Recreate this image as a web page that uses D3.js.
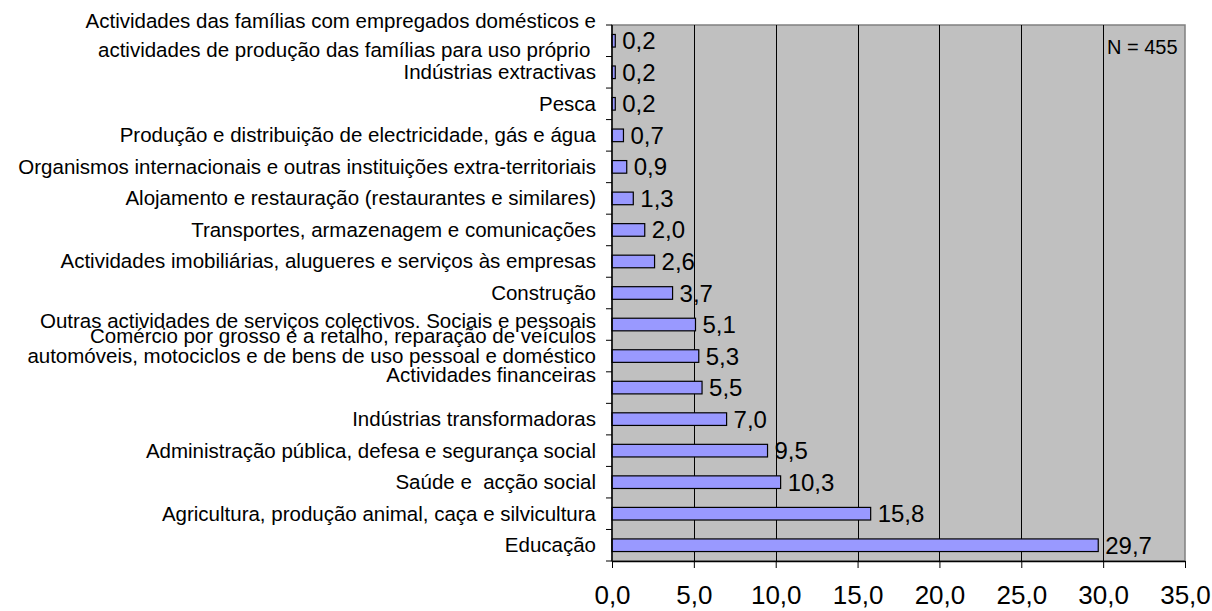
<!DOCTYPE html>
<html>
<head>
<meta charset="utf-8">
<script src="https://cdn.jsdelivr.net/npm/d3@7"></script>
<style>
    body { margin: 0; background: #fff; }
    svg { display: block; font-family: "Liberation Sans", Arial, sans-serif; }
    .cat-label { white-space: pre; }
</style>
</head>
<body>
<main></main>
<script>
// categories top to bottom, "\n" splits a label in two lines
const categories = [
    "Actividades das famílias com empregados domésticos e\nactividades de produção das famílias para uso próprio ",
    "Indústrias extractivas",
    "Pesca",
    "Produção e distribuição de electricidade, gás e água",
    "Organismos internacionais e outras instituições extra-territoriais",
    "Alojamento e restauração (restaurantes e similares)",
    "Transportes, armazenagem e comunicações",
    "Actividades imobiliárias, alugueres e serviços às empresas",
    "Construção",
    "Outras actividades de serviços colectivos. Sociais e pessoais",
    "Comércio por grosso e a retalho, reparação de veículos\nautomóveis, motociclos e de bens de uso pessoal e doméstico",
    "Actividades financeiras",
    "Indústrias transformadoras",
    "Administração pública, defesa e segurança social",
    "Saúde e  acção social",
    "Agricultura, produção animal, caça e silvicultura",
    "Educação"
];
const percents = [0.2, 0.2, 0.2, 0.7, 0.9, 1.3, 2.0, 2.6, 3.7, 5.1, 5.3, 5.5, 7.0, 9.5, 10.3, 15.8, 29.7];
const xTicks = [0, 5, 10, 15, 20, 25, 30, 35];
const note = "N = 455";

const svgSize = { width: 1212, height: 611 };
const plot = { left: 612, right: 1185, top: 25, bottom: 561 };

// Excel put some labels a little off the band centre
const labelShift = { 0: -20, 9: -3.5, 10: -20.5, 11: -13 };
const lineGap = { 0: 29, 10: 20.5 };

const comma = (v) => d3.format(".1f")(v).replace(".", ",");

const createCanvas = () => {
    return d3.select("main")
            .append("svg")
            .attr("width", svgSize.width)
            .attr("height", svgSize.height);
};

const defineScales = () => {
    const xScale = d3.scaleLinear()
                    .domain([0, 35])
                    .range([plot.left, plot.right]);
    const yScale = d3.scaleBand()
                    .domain(d3.range(categories.length))
                    .range([plot.top, plot.bottom])
                    .paddingInner(0.6)
                    .paddingOuter(0.3);
    return { xScale, yScale };
};

const createPlotArea = (svg, scales) => {
    svg.append("rect")
        .attr("x", plot.left)
        .attr("y", plot.top)
        .attr("width", plot.right - plot.left)
        .attr("height", plot.bottom - plot.top)
        .attr("fill", "#c0c0c0")
        .attr("stroke", "#808080")
        .attr("stroke-width", 1.5);

    svg.append("g")
        .selectAll("line")
        .data(xTicks.slice(1, -1))
        .enter()
        .append("line")
        .attr("x1", (d) => Math.round(scales.xScale(d)) + 0.5)
        .attr("x2", (d) => Math.round(scales.xScale(d)) + 0.5)
        .attr("y1", plot.top)
        .attr("y2", plot.bottom)
        .attr("stroke", "#000");
};

const createAxes = (svg, scales) => {
    const xAxis = svg.append("g")
        .attr("transform", `translate(0, ${plot.bottom})`)
        .call(d3.axisBottom(scales.xScale)
            .tickValues(xTicks)
            .tickFormat(comma)
            .tickSizeInner(7)
            .tickSizeOuter(0)
            .tickPadding(18));
    xAxis.select(".domain").attr("stroke", "#000").attr("stroke-width", 1.5);
    xAxis.selectAll(".tick line").attr("stroke", "#000");
    xAxis.selectAll(".tick text")
        .attr("font-size", 26)
        .attr("font-family", "Liberation Sans, Arial, sans-serif")
        .attr("fill", "#000");

    // y axis: line plus ticks between the bands
    const step = scales.yScale.step();
    const bounds = d3.range(categories.length + 1).map((i) => plot.top + i * step);
    const yAxis = svg.append("g");
    yAxis.append("line")
        .attr("x1", plot.left).attr("x2", plot.left)
        .attr("y1", plot.top).attr("y2", plot.bottom)
        .attr("stroke", "#000").attr("stroke-width", 1.5);
    yAxis.selectAll(".ytick")
        .data(bounds)
        .enter()
        .append("line")
        .attr("class", "ytick")
        .attr("x1", plot.left - 6).attr("x2", plot.left)
        .attr("y1", (d) => d).attr("y2", (d) => d)
        .attr("stroke", "#000");

    const labels = yAxis.selectAll(".cat-label")
        .data(categories)
        .enter()
        .append("text")
        .attr("class", "cat-label")
        .attr("text-anchor", "end")
        .attr("font-size", 20.5)
        .attr("fill", "#000");

    labels.each(function (d, i) {
        const center = scales.yScale(i) + scales.yScale.bandwidth() / 2;
        const base = center + 7 + (labelShift[i] || 0);
        const gap = lineGap[i] || 0;
        d.split("\n").forEach((line, k) => {
            d3.select(this)
                .append("tspan")
                .attr("x", 596)
                .attr("y", base + k * gap)
                .text(line);
        });
    });
};

const createBars = (svg, scales) => {
    svg.append("g")
        .selectAll("rect")
        .data(percents)
        .enter()
        .append("rect")
        .attr("x", scales.xScale(0))
        .attr("y", (d, i) => scales.yScale(i))
        .attr("width", (d) => scales.xScale(d) - scales.xScale(0))
        .attr("height", scales.yScale.bandwidth())
        .attr("fill", "#9999ff")
        .attr("stroke", "#000")
        .attr("stroke-width", 1.2);

    svg.append("g")
        .selectAll("text")
        .data(percents)
        .enter()
        .append("text")
        .attr("x", (d) => scales.xScale(d) + 7)
        .attr("y", (d, i) => scales.yScale(i) + scales.yScale.bandwidth() / 2 + 8.5)
        .attr("font-size", 24)
        .attr("fill", "#000")
        .text(comma);
};

const createNote = (svg) => {
    svg.append("text")
        .attr("x", 1107)
        .attr("y", 54)
        .attr("font-size", 20)
        .attr("fill", "#000")
        .text(note);
};

const driver = () => {
    const svg = createCanvas();
    const scales = defineScales();
    createPlotArea(svg, scales);
    createBars(svg, scales);
    createAxes(svg, scales);
    createNote(svg);
};

driver();
</script>
</body>
</html>
